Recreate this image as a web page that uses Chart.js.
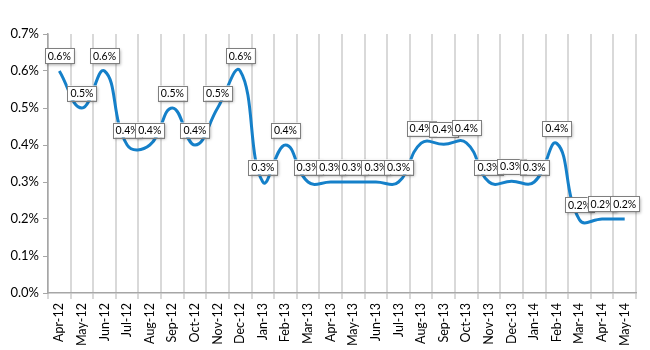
<!DOCTYPE html>
<html>
<head>
<meta charset="utf-8">
<script src="https://cdn.jsdelivr.net/npm/chart.js@4"></script>
<style>
  body { margin: 0; background: #fff; }
  #wrap { width: 650px; height: 350px; }
</style>
</head>
<body>
<div id="wrap"><canvas id="myChart" width="650" height="350"></canvas></div>
<script>
const months = ['Apr-12','May-12','Jun-12','Jul-12','Aug-12','Sep-12','Oct-12','Nov-12','Dec-12',
  'Jan-13','Feb-13','Mar-13','Apr-13','May-13','Jun-13','Jul-13','Aug-13','Sep-13','Oct-13',
  'Nov-13','Dec-13','Jan-14','Feb-14','Mar-14','Apr-14','May-14'];
// percent values
const rates = [0.6, 0.5, 0.6, 0.4, 0.4, 0.5, 0.4, 0.5, 0.6,
  0.3, 0.4, 0.3, 0.3, 0.3, 0.3, 0.3, 0.405, 0.402, 0.406,
  0.3, 0.302, 0.3, 0.404, 0.198, 0.2, 0.2];
const yTicks = [0, 0.1, 0.2, 0.3, 0.4, 0.5, 0.6, 0.7];

const fontName = 'Lato, "Open Sans", sans-serif';

// boxed value labels above each point
const boxLabels = {
  id: 'boxLabels',
  afterDatasetsDraw(chart) {
    let ctx = chart.ctx;
    let meta = chart.getDatasetMeta(0);
    ctx.save();
    ctx.font = '10.5px ' + fontName;
    ctx.textAlign = 'center';
    ctx.textBaseline = 'middle';
    meta.data.forEach((pt, i) => {
      let txt = rates[i].toFixed(1) + '%';
      let w = ctx.measureText(txt).width + 6;
      let h = 15;
      let cx = pt.x;
      let cy = chart.scales.y.getPixelForValue(rates[i]) - 15;
      ctx.shadowColor = 'rgba(0,0,0,0.35)';
      ctx.shadowBlur = 3;
      ctx.shadowOffsetX = 1.5;
      ctx.shadowOffsetY = 1.5;
      ctx.fillStyle = '#fff';
      ctx.fillRect(cx - w / 2, cy - h / 2, w, h);
      ctx.shadowColor = 'transparent';
      ctx.strokeStyle = '#7f7f7f';
      ctx.lineWidth = 1;
      ctx.strokeRect(Math.round(cx - w / 2) + 0.5, Math.round(cy - h / 2) + 0.5, Math.round(w), h);
      ctx.fillStyle = '#000';
      ctx.fillText(txt, cx, cy + 0.5);
    });
    ctx.restore();
  }
};

const myconfig = {
  type: 'line',
  data: {
    labels: months,
    datasets: [{
      label: 'Rate',
      data: rates,
      borderColor: '#1580c9',
      borderWidth: 3,
      tension: 0.45,
      pointRadius: 0,
      fill: false,
      clip: false
    }]
  },
  options: {
    responsive: false,
    animation: false,
    layout: { padding: { top: 34, right: 14, left: 0, bottom: 0 } },
    plugins: {
      legend: { display: false },
      tooltip: { enabled: false }
    },
    scales: {
      x: {
        offset: true,
        grid: {
          offset: true,
          color: '#d9d9d9',
          lineWidth: 2,
          tickLength: 6,
          drawTicks: true
        },
        border: { color: '#a6a6a6', width: 1.5 },
        ticks: {
          minRotation: 90,
          maxRotation: 90,
          autoSkip: false,
          padding: 4,
          color: '#000',
          font: { family: fontName, size: 12.5 }
        },
        afterFit: (scale) => { scale.height = 57; }
      },
      y: {
        min: 0,
        max: 0.7,
        afterBuildTicks: (scale) => { scale.ticks = yTicks.map(v => ({ value: v })); },
        grid: {
          drawOnChartArea: false,
          color: '#a6a6a6',
          tickLength: 5
        },
        border: { color: '#a6a6a6', width: 1.5 },
        ticks: {
          padding: 4,
          color: '#000',
          font: { family: fontName, size: 13 },
          callback: (v) => Number(v).toFixed(1) + '%'
        },
        afterFit: (scale) => { scale.width = 48; }
      }
    }
  },
  plugins: [boxLabels]
};

const myChart = new Chart(document.getElementById('myChart'), myconfig);
</script>
</body>
</html>
